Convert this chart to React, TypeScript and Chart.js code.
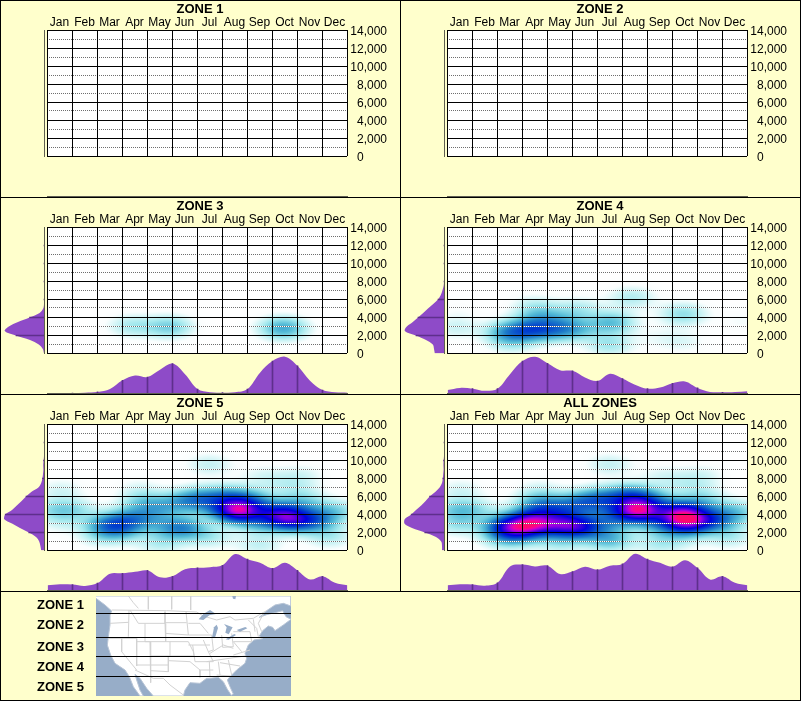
import React, { useEffect, useRef } from "react";
import { Chart, registerables } from "chart.js";

Chart.register(...registerables);

const FONT = "'Liberation Sans', Arial, sans-serif";
const PAPER = "#FFFFCC";
const PURPLE = "#8E4BC8";
const PURPLE_DARK = "#5E2F8C";
const AXIS_GREY = "#5F5F52";

const months = ["Jan", "Feb", "Mar", "Apr", "May", "Jun", "Jul", "Aug", "Sep", "Oct", "Nov", "Dec"];
const monthEdges = [1, 2, 3, 4, 5, 6, 7, 8, 9, 10, 11];
const halfMonths = [0, 0.5, 1, 1.5, 2, 2.5, 3, 3.5, 4, 4.5, 5, 5.5, 6, 6.5, 7, 7.5, 8, 8.5, 9, 9.5, 10, 10.5, 11, 11.5, 12];
const elevSteps = [0, 500, 1000, 1500, 2000, 2500, 3000, 3500, 4000, 4500, 5000, 5500, 6000, 6500, 7000, 7500, 8000, 8500, 9000, 9500, 10000, 10500, 11000, 11500, 12000, 12500, 13000, 13500, 14000];
const minorElevs = [1000, 3000, 5000, 7000, 9000, 11000, 13000];

// [month position, elevation, weight]
const zone3Heat = [
  [3.4, 3000, 0.11], [4.9, 2900, 0.17], [9.45, 2750, 0.25],
];
const zone4Heat = [
  [3.44, 2630, 0.3], [2.5, 2260, 0.26], [4.37, 2630, 0.2], [5.2, 2630, 0.14], [3.7, 4300, 0.13],
  [4.6, 3900, 0.06], [3.44, 5400, 0.05], [5.3, 4900, 0.09], [6.6, 3370, 0.2], [6.5, 960, 0.12],
  [7.4, 6150, 0.1], [9.45, 4300, 0.14], [9.45, 1300, 0.05], [0.37, 2800, 0.07], [8.4, 1700, 0.03],
  [0.5, 4660, 0.02], [11.8, 3550, 0.03], [2.6, 960, 0.06],
];
const zone5Heat = [
  [0.57, 6700, 0.06], [0.3, 4480, 0.11], [1.1, 4480, 0.1], [2.5, 2800, 0.28],
  [3.4, 3450, 0.24], [3.0, 2100, 0.14], [3.84, 5400, 0.13], [4.4, 4480, 0.13], [3.7, 6900, 0.04],
  [4.5, 3000, 0.08], [5.4, 2450, 0.28], [6.1, 5700, 0.24], [5.3, 5300, 0.15], [7.2, 5900, 0.24],
  [8.2, 5600, 0.18], [6.5, 4500, 0.06], [7.65, 4400, 0.78], [8.5, 3000, 0.16],
  [9.3, 4100, 0.42], [9.8, 3300, 0.44], [10.75, 3300, 0.25], [10.2, 5400, 0.13],
  [10.1, 6900, 0.04], [11.7, 4300, 0.09], [11.2, 4500, 0.06], [6.5, 9480, 0.08], [8.6, 8200, 0.05],
  [10.2, 8370, 0.05], [9.45, 7440, 0.04], [4.5, 600, 0.07], [6.5, 1500, 0.1], [8.5, 600, 0.08],
  [11.3, 1500, 0.1], [2.1, 1500, 0.07], [0.6, 3000, 0.05], [4.7, 1500, 0.04],
];
const allZonesHeat = [...zone3Heat, ...zone4Heat, ...zone5Heat];

const zone3Month = [0, 0, 0, 0.01, 0.03, 0.11, 0.35, 0.48, 0.44, 0.64, 0.81, 0.52, 0.11, 0.02, 0.01, 0.02, 0.11, 0.56, 0.88, 1, 0.75, 0.34, 0.08, 0.02, 0.01];
const zone4Month = [0.08, 0.14, 0.12, 0.06, 0.12, 0.52, 0.88, 1, 0.82, 0.63, 0.61, 0.43, 0.33, 0.53, 0.4, 0.23, 0.12, 0.15, 0.27, 0.32, 0.14, 0.03, 0.02, 0.03, 0.05];
const zone5Month = [0.13, 0.16, 0.15, 0.11, 0.19, 0.45, 0.46, 0.5, 0.54, 0.35, 0.38, 0.57, 0.61, 0.63, 0.68, 0.99, 0.85, 0.75, 0.6, 0.75, 0.54, 0.29, 0.38, 0.2, 0.13];
const allZonesMonth = [0.13, 0.16, 0.15, 0.12, 0.2, 0.65, 0.7, 0.65, 0.67, 0.44, 0.51, 0.64, 0.56, 0.67, 0.72, 1, 0.85, 0.75, 0.64, 0.82, 0.61, 0.29, 0.38, 0.2, 0.13];

const zone3Elev = [0, 0.03, 0.13, 0.35, 0.7, 0.98, 0.88, 0.65, 0.36, 0.11, 0.02, 0, 0, 0, 0, 0, 0, 0, 0, 0, 0, 0, 0, 0, 0, 0, 0, 0, 0];
const zone4Elev = [0.23, 0.25, 0.28, 0.45, 0.7, 0.98, 0.93, 0.78, 0.65, 0.52, 0.4, 0.27, 0.15, 0.08, 0.04, 0.01, 0, 0, 0, 0, 0, 0, 0, 0, 0, 0, 0, 0, 0];
const zone5Elev = [0.07, 0.09, 0.12, 0.2, 0.38, 0.6, 0.8, 1, 0.97, 0.8, 0.68, 0.56, 0.45, 0.32, 0.14, 0.07, 0.04, 0.025, 0.015, 0.02, 0.01, 0, 0, 0, 0, 0, 0, 0, 0];
const allZonesElev = [0.05, 0.05, 0.07, 0.2, 0.48, 0.8, 0.99, 0.98, 0.82, 0.7, 0.57, 0.46, 0.36, 0.22, 0.11, 0.05, 0.03, 0.02, 0.01, 0.015, 0.01, 0, 0, 0, 0, 0, 0, 0, 0];

const panelTitles = ["ZONE 1", "ZONE 2", "ZONE 3", "ZONE 4", "ZONE 5", "ALL ZONES"];
const panelHeat = [[], [], zone3Heat, zone4Heat, zone5Heat, allZonesHeat];
const panelMonth = [[], [], zone3Month, zone4Month, zone5Month, allZonesMonth];
const panelElev = [[], [], zone3Elev, zone4Elev, zone5Elev, allZonesElev];

// map drawing in map units
const landOutline = [
  [288, 18], [873, 18], [873, 48], [850, 40], [825, 45], [800, 62], [778, 82], [800, 74], [825, 68], [848, 62], [858, 80],
  [873, 88], [850, 105], [825, 122], [818, 112], [805, 108], [788, 122], [778, 138], [788, 146], [762, 150], [745, 165],
  [735, 190], [740, 205], [735, 220], [710, 240], [690, 260], [682, 270], [690, 290], [700, 312], [694, 316], [682, 298],
  [670, 275], [655, 262], [630, 265], [620, 265], [600, 280], [570, 278], [555, 300], [550, 318], [460, 318], [440, 295],
  [420, 265], [405, 253], [410, 270], [420, 300], [430, 318], [420, 318], [400, 290], [388, 260], [375, 240], [345, 220],
  [332, 195], [322, 165], [325, 140], [330, 105], [330, 75], [335, 63], [315, 45], [288, 25],
];
const lakes = [
  [[596, 88], [610, 72], [630, 60], [648, 72], [628, 76], [610, 90]],
  [[636, 143], [642, 112], [650, 104], [654, 114], [646, 140]],
  [[672, 102], [698, 112], [686, 133], [676, 128], [680, 112]],
  [[677, 148], [703, 132], [708, 135], [686, 149]],
  [[710, 120], [736, 111], [742, 115], [720, 125]],
  [[697, 18], [708, 18], [706, 28], [699, 26]],
];
const bordersOnMap = [
  [[385, 18], [400, 38], [415, 55]], [[445, 18], [445, 58]], [[515, 18], [515, 58]], [[572, 18], [572, 60]],
  [[335, 60], [500, 62], [590, 66], [610, 78], [650, 90]], [[650, 90], [690, 80], [705, 90], [760, 85], [785, 70], [800, 62]],
  [[330, 100], [385, 97]], [[387, 60], [385, 140]], [[325, 145], [410, 145]], [[390, 60], [415, 100], [435, 100]],
  [[495, 65], [495, 100]], [[435, 100], [495, 100], [497, 155], [435, 155], [435, 100]], [[495, 98], [560, 98]],
  [[495, 130], [565, 135]], [[558, 65], [565, 135]], [[410, 145], [410, 228]], [[365, 145], [365, 185], [410, 240]],
  [[410, 155], [450, 155], [452, 278]], [[410, 225], [505, 225]], [[450, 198], [510, 198], [510, 155], [497, 155]],
  [[510, 155], [565, 155], [580, 185], [582, 198], [510, 198]], [[505, 198], [505, 245], [452, 242]],
  [[505, 212], [570, 215], [600, 240], [600, 262]], [[405, 240], [460, 265], [490, 265], [510, 285], [550, 315]],
  [[565, 100], [600, 100], [625, 130]], [[565, 135], [635, 135]], [[565, 165], [630, 165]], [[578, 165], [585, 215], [640, 215], [625, 185], [610, 150]],
  [[600, 240], [640, 240]], [[628, 215], [630, 262]], [[655, 215], [660, 255]], [[685, 210], [695, 255]], [[650, 255], [690, 258]],
  [[620, 215], [735, 198]], [[630, 190], [670, 165], [700, 175]], [[700, 195], [750, 180]], [[660, 218], [720, 228]],
  [[635, 135], [640, 180], [625, 185]], [[665, 135], [668, 172]], [[695, 130], [700, 170], [668, 172]],
  [[700, 125], [750, 125], [755, 155], [700, 155]], [[745, 90], [770, 115], [775, 140]], [[760, 88], [765, 125]],
  [[785, 125], [775, 100], [790, 72]], [[700, 155], [725, 185]],
];
const zoneLimits = [70.5, 142.5, 199.5, 259.5];
const zoneLabels = ["ZONE 1", "ZONE 2", "ZONE 3", "ZONE 4", "ZONE 5"];
const zoneLabelCentres = [605, 625, 647, 667, 687];

const colorStops: [number, number[]][] = [
  [0, [255, 255, 255]],
  [0.025, [250, 254, 254]],
  [0.06, [215, 246, 247]],
  [0.12, [165, 233, 238]],
  [0.22, [85, 188, 215]],
  [0.34, [30, 125, 200]],
  [0.48, [0, 60, 205]],
  [0.62, [0, 0, 220]],
  [0.75, [80, 0, 225]],
  [0.85, [170, 0, 225]],
  [0.93, [240, 0, 170]],
  [1, [255, 10, 110]],
];

const KERNEL_MONTHS = 0.65;
const KERNEL_ELEV = 880;

function colorAt(v: number) {
  const c = Math.min(1, Math.max(0, v));
  for (let i = 1; i < colorStops.length; i++) {
    const [b, cb] = colorStops[i];
    if (c <= b) {
      const [a, ca] = colorStops[i - 1];
      const t = (c - a) / (b - a);
      return [ca[0] + (cb[0] - ca[0]) * t, ca[1] + (cb[1] - ca[1]) * t, ca[2] + (cb[2] - ca[2]) * t];
    }
  }
  return colorStops[colorStops.length - 1][1];
}

const heatPlugin = {
  id: "heat",
  beforeDraw(chart: any) {
    const { ctx, chartArea, scales } = chart;
    const w = Math.round(chartArea.right - chartArea.left);
    const h = Math.round(chartArea.bottom - chartArea.top);
    const img = ctx.createImageData(w, h);
    const pts = chart.data.datasets[0].data;
    const xs: number[] = [];
    const ys: number[] = [];
    for (let i = 0; i < w; i++) xs.push(scales.x.getValueForPixel(chartArea.left + i + 0.5));
    for (let j = 0; j < h; j++) ys.push(scales.y.getValueForPixel(chartArea.top + j + 0.5));
    for (let j = 0; j < h; j++) {
      for (let i = 0; i < w; i++) {
        let v = 0;
        for (const p of pts) {
          const dx = (xs[i] - p.x) / KERNEL_MONTHS;
          const dy = (ys[j] - p.y) / KERNEL_ELEV;
          v += p.w * Math.exp(-0.5 * (dx * dx + dy * dy));
        }
        const c = colorAt(v);
        const k = (j * w + i) * 4;
        img.data[k] = c[0];
        img.data[k + 1] = c[1];
        img.data[k + 2] = c[2];
        img.data[k + 3] = 255;
      }
    }
    ctx.putImageData(img, chartArea.left, chartArea.top);
  },
};

const hiddenTicks = { display: false };
const tickFont = { family: FONT, size: 12, lineHeight: 1 };

function makeMain(canvas: HTMLCanvasElement, title: string, heat: number[][]) {
  return new Chart(canvas, {
    type: "scatter",
    data: {
      datasets: [
        {
          data: heat.map(([x, y, w]) => ({ x, y, w })),
          pointRadius: 0,
          xAxisID: "x",
          yAxisID: "y",
        },
      ],
    },
    plugins: [heatPlugin],
    options: {
      animation: false,
      responsive: false,
      devicePixelRatio: 1,
      events: [],
      layout: { autoPadding: false, padding: { left: 0, right: 0, bottom: 41, top: 0 } },
      plugins: {
        legend: { display: false },
        tooltip: { enabled: false },
        title: {
          display: true,
          text: title,
          color: "#000",
          font: { family: FONT, size: 13, weight: "bold", lineHeight: 1 },
          padding: { top: 3, bottom: 0 },
        },
      },
      scales: {
        months: {
          type: "category",
          position: "top",
          labels: months,
          offset: true,
          grid: { display: false, drawTicks: false },
          border: { display: false },
          ticks: { color: "#000", font: tickFont, padding: 1, autoSkip: false, maxRotation: 0 },
          afterFit: (s: any) => { s.height = 14; },
        },
        x: {
          type: "linear",
          position: "bottom",
          min: 0,
          max: 12,
          grid: { color: "#000", lineWidth: 1, drawTicks: false, z: 0 },
          border: { display: false },
          ticks: { ...hiddenTicks, stepSize: 1 },
          afterFit: (s: any) => { s.height = 0; },
        },
        y: {
          type: "linear",
          position: "right",
          weight: 0,
          min: 0,
          max: 14000,
          grid: { color: "#000", lineWidth: 1, drawTicks: false, z: 0 },
          border: { display: false },
          ticks: {
            stepSize: 2000,
            color: "#000",
            font: tickFont,
            padding: 3,
            labelOffset: 2,
            crossAlign: "far",
            autoSkip: false,
            callback: (v: any) => (v === 0 ? "0       " : Number(v).toLocaleString("en-US")),
          },
          afterFit: (s: any) => { s.width = 40; },
        },
        dotted: {
          type: "linear",
          position: "right",
          weight: 10,
          min: 0,
          max: 14000,
          grid: { color: "#6E6E6E", lineWidth: 1, drawTicks: false, z: -1 },
          border: { display: false, dash: [1, 1] },
          ticks: hiddenTicks,
          afterBuildTicks: (s: any) => { s.ticks = minorElevs.map((value) => ({ value })); },
          afterFit: (s: any) => { s.width = 13; },
        },
        dottedBack: {
          type: "linear",
          position: "left",
          min: 0,
          max: 14000,
          grid: { color: "#fff", lineWidth: 1, drawTicks: false, z: -2 },
          border: { display: false },
          ticks: hiddenTicks,
          afterBuildTicks: (s: any) => { s.ticks = minorElevs.map((value) => ({ value })); },
          afterFit: (s: any) => { s.width = 47; },
        },
      },
    } as any,
  } as any);
}

function makeBottom(canvas: HTMLCanvasElement, values: number[]) {
  const curve = values.map((y, i) => ({ x: halfMonths[i], y }));
  const edges = values.length ? monthEdges.map((x) => ({ x, y: values[x * 2] })) : [];
  return new Chart(canvas, {
    data: {
      datasets: [
        { type: "bar", data: edges, backgroundColor: PURPLE_DARK, barThickness: 1, borderWidth: 0, order: 0 },
        {
          type: "line",
          data: curve,
          borderWidth: 0,
          pointRadius: 0,
          tension: 0.35,
          fill: "origin",
          backgroundColor: PURPLE,
          order: 1,
        },
      ],
    },
    options: {
      animation: false,
      responsive: false,
      devicePixelRatio: 1,
      events: [],
      layout: { autoPadding: false, padding: { left: 0.5, right: 0.5, top: 0, bottom: 1 } },
      plugins: { legend: { display: false }, tooltip: { enabled: false } },
      scales: {
        x: {
          type: "linear",
          min: 0,
          max: 12,
          offset: false,
          grid: { display: false, drawTicks: false, offset: false },
          border: { display: true, color: AXIS_GREY, width: 1 },
          ticks: hiddenTicks,
          afterFit: (s: any) => { s.height = 0; },
        },
        y: {
          type: "linear",
          min: 0,
          max: 1.02,
          display: false,
        },
      },
    } as any,
  } as any);
}

function makeLeft(canvas: HTMLCanvasElement, values: number[]) {
  const curve = values.map((x, i) => ({ y: elevSteps[i], x }));
  const edges = values.length
    ? elevSteps.map((y, i) => ({ y, x: values[i] })).filter((p) => p.y > 0 && p.y < 14000 && p.y % 2000 === 0)
    : [];
  return new Chart(canvas, {
    data: {
      datasets: [
        { type: "bar", data: edges, backgroundColor: PURPLE_DARK, barThickness: 1, borderWidth: 0, order: 0 },
        {
          type: "line",
          data: curve,
          borderWidth: 0,
          pointRadius: 0,
          tension: 0.35,
          fill: "origin",
          backgroundColor: PURPLE,
          order: 1,
        },
      ],
    },
    options: {
      indexAxis: "y",
      animation: false,
      responsive: false,
      devicePixelRatio: 1,
      events: [],
      layout: { autoPadding: false, padding: { left: 1, right: 1, top: 0.5, bottom: 0.5 } },
      plugins: { legend: { display: false }, tooltip: { enabled: false } },
      scales: {
        x: { type: "linear", reverse: true, min: 0, max: 1.0, display: false, offset: false },
        y: {
          type: "linear",
          position: "right",
          min: 0,
          max: 14000,
          offset: false,
          grid: { display: false, drawTicks: false, offset: false },
          border: { display: true, color: AXIS_GREY, width: 1 },
          ticks: hiddenTicks,
          afterFit: (s: any) => { s.width = 0; },
        },
      },
    } as any,
  } as any);
}

function Panel({ index }: { index: number }) {
  const main = useRef<HTMLCanvasElement>(null);
  const bottom = useRef<HTMLCanvasElement>(null);
  const left = useRef<HTMLCanvasElement>(null);
  useEffect(() => {
    const charts = [
      makeMain(main.current!, panelTitles[index], panelHeat[index]),
      makeBottom(bottom.current!, panelMonth[index]),
      makeLeft(left.current!, panelElev[index]),
    ];
    return () => charts.forEach((c) => c.destroy());
  }, [index]);
  const ox = index % 2 === 0 ? 0 : 400;
  const oy = Math.floor(index / 2) * 197;
  const base: React.CSSProperties = { position: "absolute", display: "block" };
  return (
    <>
      <canvas ref={main} width={400} height={197} style={{ ...base, left: ox, top: oy }} />
      <canvas ref={bottom} width={301} height={38} style={{ ...base, left: ox + 47, top: oy + 159 }} />
      <canvas ref={left} width={42} height={127} style={{ ...base, left: ox + 3, top: oy + 30 }} />
    </>
  );
}

function MapChart() {
  const ref = useRef<HTMLCanvasElement>(null);
  useEffect(() => {
    const toPts = (line: number[][]) => line.map(([x, y]) => ({ x, y }));
    const datasets: any[] = [
      { data: toPts(landOutline), showLine: true, fill: "shape", backgroundColor: "#FFFFFF", borderColor: "#B8C5D6", borderWidth: 1, pointRadius: 0, order: 5 },
      ...bordersOnMap.map((line) => ({ data: toPts(line), showLine: true, borderColor: "#D2D2D2", borderWidth: 1, pointRadius: 0, order: 4 })),
      ...lakes.map((line) => ({ data: toPts([...line, line[0]]), showLine: true, fill: "shape", backgroundColor: "#97ADC8", borderColor: "#97ADC8", borderWidth: 0, pointRadius: 0, order: 3 })),
      ...zoneLimits.map((y) => ({ data: [{ x: 288, y }, { x: 873, y }], showLine: true, borderColor: "#000", borderWidth: 1, pointRadius: 0, order: 1 })),
    ];
    const chart = new Chart(ref.current!, {
      type: "scatter",
      data: { datasets },
      plugins: [
        {
          id: "ocean",
          beforeDraw(c: any) {
            const a = c.chartArea;
            c.ctx.fillStyle = "#97ADC8";
            c.ctx.fillRect(a.left, a.top, a.right - a.left, a.bottom - a.top);
          },
        },
      ],
      options: {
        animation: false,
        responsive: false,
        devicePixelRatio: 1,
        events: [],
        layout: { autoPadding: false, padding: 0 },
        plugins: { legend: { display: false }, tooltip: { enabled: false } },
        scales: {
          x: { type: "linear", min: 288, max: 873, display: false },
          y: { type: "linear", reverse: true, min: 18, max: 318, display: false },
        },
      } as any,
    } as any);
    return () => chart.destroy();
  }, []);
  return <canvas ref={ref} width={195} height={100} style={{ position: "absolute", display: "block", left: 96, top: 596 }} />;
}

const rule = (left: number, top: number, width: number, height: number): React.CSSProperties => ({
  position: "absolute",
  left,
  top,
  width,
  height,
  background: "#000",
});

export default function App() {
  return (
    <div style={{ position: "absolute", left: 0, top: 0, width: 801, height: 701, background: PAPER, overflow: "hidden" }}>
      {panelTitles.map((_, i) => (
        <Panel key={i} index={i} />
      ))}
      <MapChart />
      {zoneLabels.map((t, i) => (
        <div
          key={t}
          style={{
            position: "absolute",
            left: 20,
            width: 64,
            top: zoneLabelCentres[i] - 8,
            height: 16,
            textAlign: "right",
            font: `bold 13px/16px ${FONT}`,
            color: "#000",
          }}
        >
          {t}
        </div>
      ))}
      <div style={rule(0, 0, 801, 1)} />
      <div style={rule(0, 700, 801, 1)} />
      <div style={rule(0, 0, 1, 701)} />
      <div style={rule(800, 0, 1, 701)} />
      <div style={rule(400, 0, 1, 591)} />
      <div style={rule(0, 197, 801, 1)} />
      <div style={rule(0, 394, 801, 1)} />
      <div style={rule(0, 591, 801, 1)} />
    </div>
  );
}
